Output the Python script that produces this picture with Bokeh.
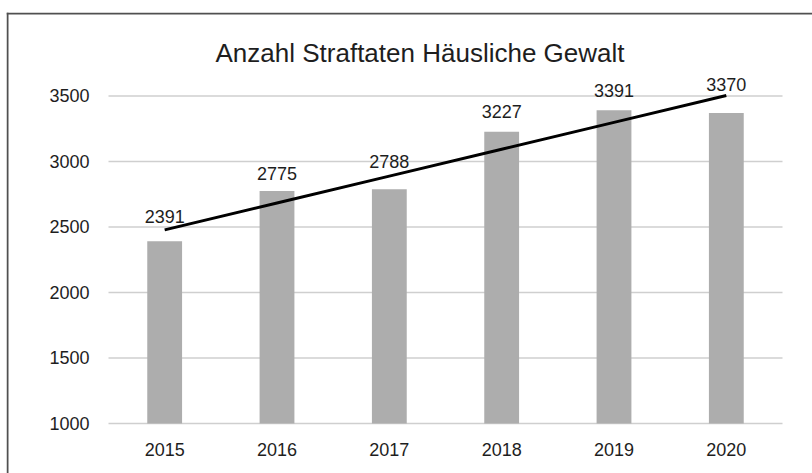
import numpy as np
from bokeh.plotting import figure
from bokeh.models import ColumnDataSource, Range1d, FixedTicker, Label, Span
from bokeh.core.properties import value
from bokeh.embed import file_html
from bokeh.resources import INLINE

# ---- data ----
years = ["2015", "2016", "2017", "2018", "2019", "2020"]
cases = [2391, 2775, 2788, 3227, 3391, 3370]
y_ticks = [1000, 1500, 2000, 2500, 3000, 3500]
title_text = "Anzahl Straftaten Häusliche Gewalt"

label_lift = [18, 11, 21, 14, 13, 22]

FONT = "Liberation Sans"
TXT = "#1e1e1e"
GRID = "#cfcfcf"
BORDER = "#505050"

idx = list(range(len(years)))
slope, intercept = np.polyfit(idx, np.array(cases, dtype=float), 1)
trend = [slope * i + intercept for i in idx]

W, H = 812, 473
F_LEFT, F_TOP, F_RIGHT = 6, 12, 0
PLOT_L, PLOT_R = 108, 782
Y_BASE_PX, PX_PER_UNIT = 423, 327.6 / 2500.0
s = (PLOT_R - PLOT_L) / len(years)
x0 = -0.5 - (PLOT_L - F_LEFT) / s
x1 = x0 + (W - F_RIGHT - F_LEFT) / s
y0 = 1000 - (H - Y_BASE_PX) / PX_PER_UNIT
y1 = 1000 + (Y_BASE_PX - F_TOP) / PX_PER_UNIT

src = ColumnDataSource(dict(
    i=idx, cases=cases, lab=[str(c) for c in cases],
    ly=[c + (d + 6.5) / PX_PER_UNIT for c, d in zip(cases, label_lift)],
))

p = figure(width=W, height=H, x_range=Range1d(x0, x1), y_range=Range1d(y0, y1),
           output_backend="svg", toolbar_location=None, title=None,
           min_border_left=F_LEFT, min_border_right=F_RIGHT,
           min_border_top=F_TOP, min_border_bottom=0)
p.outline_line_color = None
p.outline_line_alpha = 0
p.background_fill_color = "white"
p.border_fill_color = "white"
p.xgrid.visible = False
p.ygrid.visible = False

p.segment(x0=-0.5, x1=len(years) - 0.5, y0=y_ticks, y1=y_ticks,
          line_color=GRID, line_width=1.5)

p.vbar(x="i", top="cases", bottom=1000, width=0.31, source=src,
       fill_color="#adadad", line_color=None)

p.line(x=idx, y=trend, line_color="black", line_width=3)

p.text(x="i", y="ly", text="lab", source=src,
       text_align="center", text_baseline="middle",
       text_font=value(FONT), text_font_size="18px", text_color=TXT)

p.yaxis.fixed_location = -0.5
p.yaxis.ticker = FixedTicker(ticks=y_ticks)
p.yaxis.axis_line_color = None
p.yaxis.major_tick_line_color = None
p.yaxis.minor_tick_line_color = None
p.yaxis.major_tick_out = 0
p.yaxis.major_tick_in = 0
p.yaxis.major_label_standoff = 19

p.xaxis.fixed_location = 1000
p.xaxis.ticker = FixedTicker(ticks=idx)
p.xaxis.major_label_overrides = {i: y for i, y in zip(idx, years)}
p.xaxis.axis_line_color = None
p.xaxis.major_tick_line_color = None
p.xaxis.minor_tick_line_color = None
p.xaxis.major_tick_out = 0
p.xaxis.major_tick_in = 0
p.xaxis.major_label_standoff = 19
for ax in (p.xaxis, p.yaxis):
    ax.major_label_text_font = FONT
    ax.major_label_text_font_size = "18px"
    ax.major_label_text_color = TXT

p.add_layout(Label(x=419.5, y=52.5, x_units="canvas", y_units="canvas", text=title_text,
                   text_align="center", text_baseline="middle",
                   text_font=FONT, text_font_size="26px", text_color=TXT))

# mask the right frame edge
p.add_layout(Span(location=x1, dimension="height", line_color="white",
                  line_width=6, level="overlay"))

# chart box border (left and top edges)
p.add_layout(Span(location=x0 + 1.0 / s, dimension="height",
                  line_color=BORDER, line_width=2, level="overlay"))
p.add_layout(Span(location=y1 - 1.0 / PX_PER_UNIT, dimension="width",
                  line_color=BORDER, line_width=2, level="overlay"))

open("out.html", "w").write(file_html(p, INLINE))
